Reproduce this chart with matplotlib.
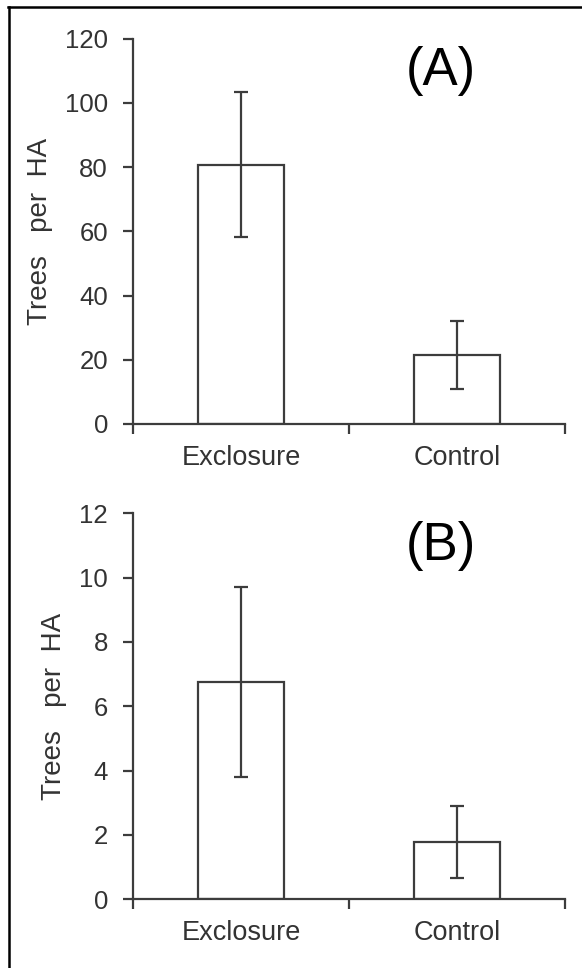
import matplotlib
matplotlib.use("Agg")
import matplotlib.pyplot as plt
from matplotlib.lines import Line2D

plt.rcParams['font.family'] = ['Liberation Sans', 'DejaVu Sans']

categories = ["Exclosure", "Control"]
# panel A: trees per HA (tall trees)
values_a = [80.8, 21.6]
errors_a = [22.7, 10.6]
# panel B
values_b = [6.76, 1.79]
errors_b = [2.95, 1.12]
panel_tags = ["(A)", "(B)"]
ylims = [(0, 120), (0, 12)]
yticks = [[0, 20, 40, 60, 80, 100, 120], [0, 2, 4, 6, 8, 10, 12]]

edge = "#3c3c3c"
txt = "#333333"

fig = plt.figure(figsize=(5.82, 9.68), dpi=100)
ax_a = fig.add_axes([0.2285, 0.562, 0.7423, 0.398])
ax_b = fig.add_axes([0.2285, 0.071, 0.7423, 0.3987])

label_x = [-0.185, -0.153]
for ax, vals, errs, tag, yl, yt, lx in zip([ax_a, ax_b], [values_a, values_b], [errors_a, errors_b],
                                           panel_tags, ylims, yticks, label_x):
    pos = [0.5, 1.5]
    ax.bar(pos, vals, width=0.4, color="white", edgecolor=edge, linewidth=1.6, zorder=2)
    ax.errorbar(pos, vals, yerr=errs, fmt="none", ecolor=edge, elinewidth=1.6,
                capsize=5, capthick=1.6, zorder=3)
    ax.set_xlim(0, 2)
    ax.set_ylim(*yl)
    ax.set_yticks(yt)
    ax.set_xticks([0, 1, 2])
    ax.set_xticklabels([])
    ax.set_xticks(pos, minor=True)
    ax.set_xticklabels(categories, minor=True)
    ax.tick_params(axis="x", which="minor", length=0, pad=15, labelsize=19.5, labelcolor=txt)
    ax.tick_params(axis="x", which="major", length=7, width=1.6, color=edge)
    ax.tick_params(axis="y", length=7, width=1.6, color=edge, pad=11, labelsize=18.5, labelcolor=txt)
    for s in ["top", "right"]:
        ax.spines[s].set_visible(False)
    for s in ["left", "bottom"]:
        ax.spines[s].set_linewidth(1.6)
        ax.spines[s].set_color(edge)
    ax.set_ylabel("Trees   per  HA", fontsize=20, color=txt)
    ax.yaxis.set_label_coords(lx, 0.5)
    ax.text(0.713, 0.915, tag, transform=ax.transAxes, fontsize=38, color="black",
            ha="center", va="center")

# frame lines of the original figure
fig.add_artist(Line2D([0.0145, 1.0], [0.9925, 0.9925], transform=fig.transFigure, color="black", linewidth=1.8))
fig.add_artist(Line2D([0.0155, 0.0155], [0.0, 0.9925], transform=fig.transFigure, color="black", linewidth=1.8))

fig.savefig("out.png", dpi=100)
